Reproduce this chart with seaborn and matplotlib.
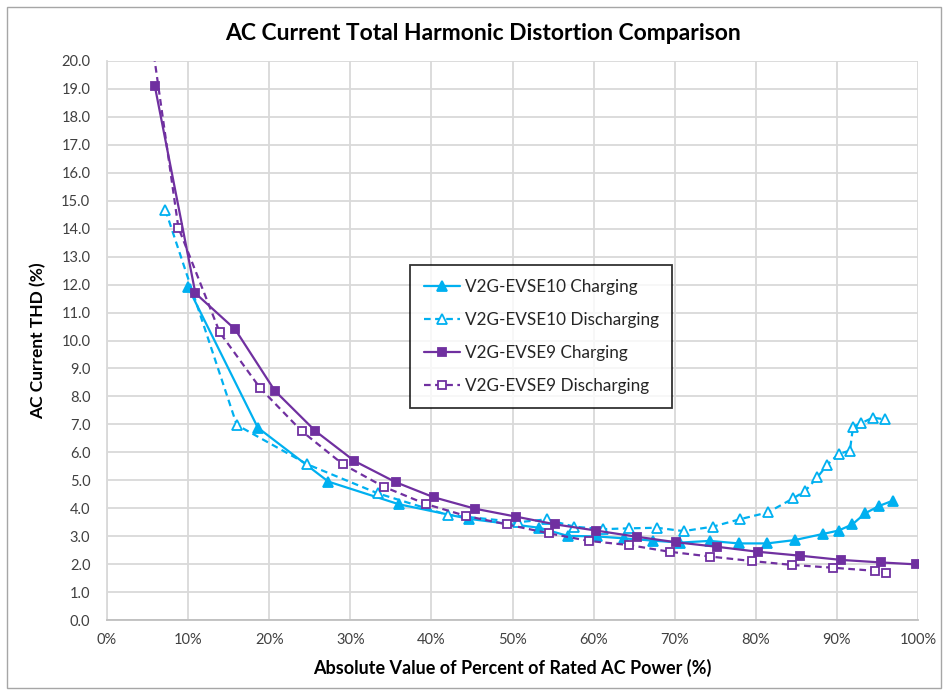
import matplotlib
matplotlib.use("Agg")
import matplotlib.pyplot as plt
import seaborn as sns
import pandas as pd
from matplotlib.patches import Rectangle
from matplotlib.ticker import FuncFormatter, MultipleLocator

# ---- data (percent of rated AC power, THD %) ----
evse10_chg_x = [10.0, 18.6, 27.3, 36.0, 44.6, 53.3, 56.8, 60.4, 63.8, 67.3, 70.7,
                74.3, 77.9, 81.4, 84.8, 88.3, 90.2, 91.9, 93.5, 95.2, 96.9]
evse10_chg_y = [11.9, 6.88, 4.95, 4.14, 3.62, 3.30, 3.01, 2.99, 2.92, 2.84, 2.77,
                2.83, 2.74, 2.74, 2.86, 3.08, 3.20, 3.42, 3.82, 4.08, 4.27]

evse10_dis_x = [7.2, 16.0, 24.7, 33.4, 42.0, 50.7, 54.2, 57.6, 61.1, 64.4, 67.8,
                71.1, 74.7, 78.1, 81.5, 84.6, 86.1, 87.6, 88.8, 90.2, 91.6,
                92.0, 93.0, 94.4, 95.9]
evse10_dis_y = [14.67, 6.98, 5.57, 4.53, 3.76, 3.50, 3.60, 3.34, 3.25, 3.28, 3.30,
                3.18, 3.34, 3.61, 3.85, 4.35, 4.62, 5.11, 5.55, 5.94, 6.06,
                6.92, 7.04, 7.24, 7.18]

evse9_chg_x = [5.9, 10.9, 15.8, 20.7, 25.7, 30.5, 35.6, 40.3, 45.4, 50.4, 55.3,
               60.3, 65.3, 70.2, 75.2, 80.3, 85.5, 90.5, 95.4, 99.8]
evse9_chg_y = [19.1, 11.69, 10.40, 8.20, 6.76, 5.69, 4.93, 4.39, 3.98, 3.70, 3.42,
               3.20, 2.98, 2.78, 2.62, 2.44, 2.30, 2.15, 2.06, 1.99]

evse9_dis_x = [5.4, 8.8, 13.9, 18.9, 24.0, 29.1, 34.1, 39.3, 44.3, 49.3, 54.5,
               59.4, 64.4, 69.4, 74.4, 79.5, 84.5, 89.5, 94.7, 96.1]
evse9_dis_y = [21.0, 14.04, 10.29, 8.29, 6.76, 5.57, 4.77, 4.15, 3.72, 3.42, 3.10,
               2.83, 2.68, 2.44, 2.27, 2.11, 1.97, 1.87, 1.76, 1.67]

series_names = ["V2G-EVSE10 Charging", "V2G-EVSE10 Discharging",
                "V2G-EVSE9 Charging", "V2G-EVSE9 Discharging"]
title = "AC Current Total Harmonic Distortion Comparison"
xlabel = "Absolute Value of Percent of Rated AC Power (%)"
ylabel = "AC Current THD (%)"

CYAN = "#00B0F0"
PURPLE = "#7030A0"

sns.set_theme(style="white")
plt.rcParams["font.family"] = ["Lato", "DejaVu Sans"]

fig = plt.figure(figsize=(9.49, 6.95), dpi=100)
ax = fig.add_axes([107 / 949, 1 - 620 / 695, (918 - 107) / 949, (620 - 61) / 695])

styles = [
    (evse10_chg_x, evse10_chg_y, CYAN, "-", "^", CYAN, 6.5),
    (evse10_dis_x, evse10_dis_y, CYAN, "--", "^", "white", 6.5),
    (evse9_chg_x, evse9_chg_y, PURPLE, "-", "s", PURPLE, 5.6),
    (evse9_dis_x, evse9_dis_y, PURPLE, "--", "s", "white", 5.6),
]

for name, (xs, ys, col, ls, mk, mfc, ms) in zip(series_names, styles):
    df = pd.DataFrame({"x": xs, "y": ys})
    kw = dict(dashes=(3, 2)) if ls == "--" else {}
    sns.lineplot(data=df, x="x", y="y", ax=ax, sort=False, estimator=None,
                 color=col, linewidth=1.6, marker=mk, markersize=ms,
                 markerfacecolor=mfc, markeredgecolor=col, markeredgewidth=1.3,
                 label=name, **kw)

ax.set_xlim(0, 100)
ax.set_ylim(0, 20)
ax.xaxis.set_major_locator(MultipleLocator(10))
ax.yaxis.set_major_locator(MultipleLocator(1))
ax.xaxis.set_major_formatter(FuncFormatter(lambda v, p: f"{v:.0f}%"))
ax.yaxis.set_major_formatter(FuncFormatter(lambda v, p: f"{v:.1f}"))
ax.grid(True, color="#d9d9d9", linewidth=1.3)
ax.set_axisbelow(True)
for s in ["top", "right"]:
    ax.spines[s].set_visible(False)
ax.spines["left"].set_color("#d9d9d9")
ax.spines["bottom"].set_color("#bfbfbf")
ax.spines["left"].set_linewidth(1.3)
ax.spines["bottom"].set_linewidth(1.3)
ax.tick_params(axis="both", length=0, labelsize=10.5, colors="#404040")
ax.tick_params(axis="y", pad=12)
ax.tick_params(axis="x", pad=9)

ax.set_xlabel(xlabel, fontsize=13, fontweight="bold", color="black", labelpad=9)
ax.set_ylabel(ylabel, fontsize=12.5, fontweight="bold", color="black", labelpad=11)
fig.text(483 / 949, 1 - 33 / 695, title, ha="center", va="center",
         fontsize=16.5, fontweight="bold", color="black")

leg = ax.legend(loc="upper left", bbox_to_anchor=((410 - 107) / 811, (620 - 265) / 559),
                borderaxespad=0.0,
                fontsize=12.3, frameon=True, fancybox=False, edgecolor="black",
                handlelength=2.1, labelspacing=1.0, borderpad=0.8, handletextpad=0.3)
leg.get_frame().set_linewidth(1.3)

fig.patches.append(Rectangle((7 / 949, 7 / 695), 934 / 949, 681 / 695,
                             transform=fig.transFigure, fill=False,
                             edgecolor="#a6a6a6", linewidth=1.0))

fig.savefig("out.png", dpi=100, facecolor="white")
